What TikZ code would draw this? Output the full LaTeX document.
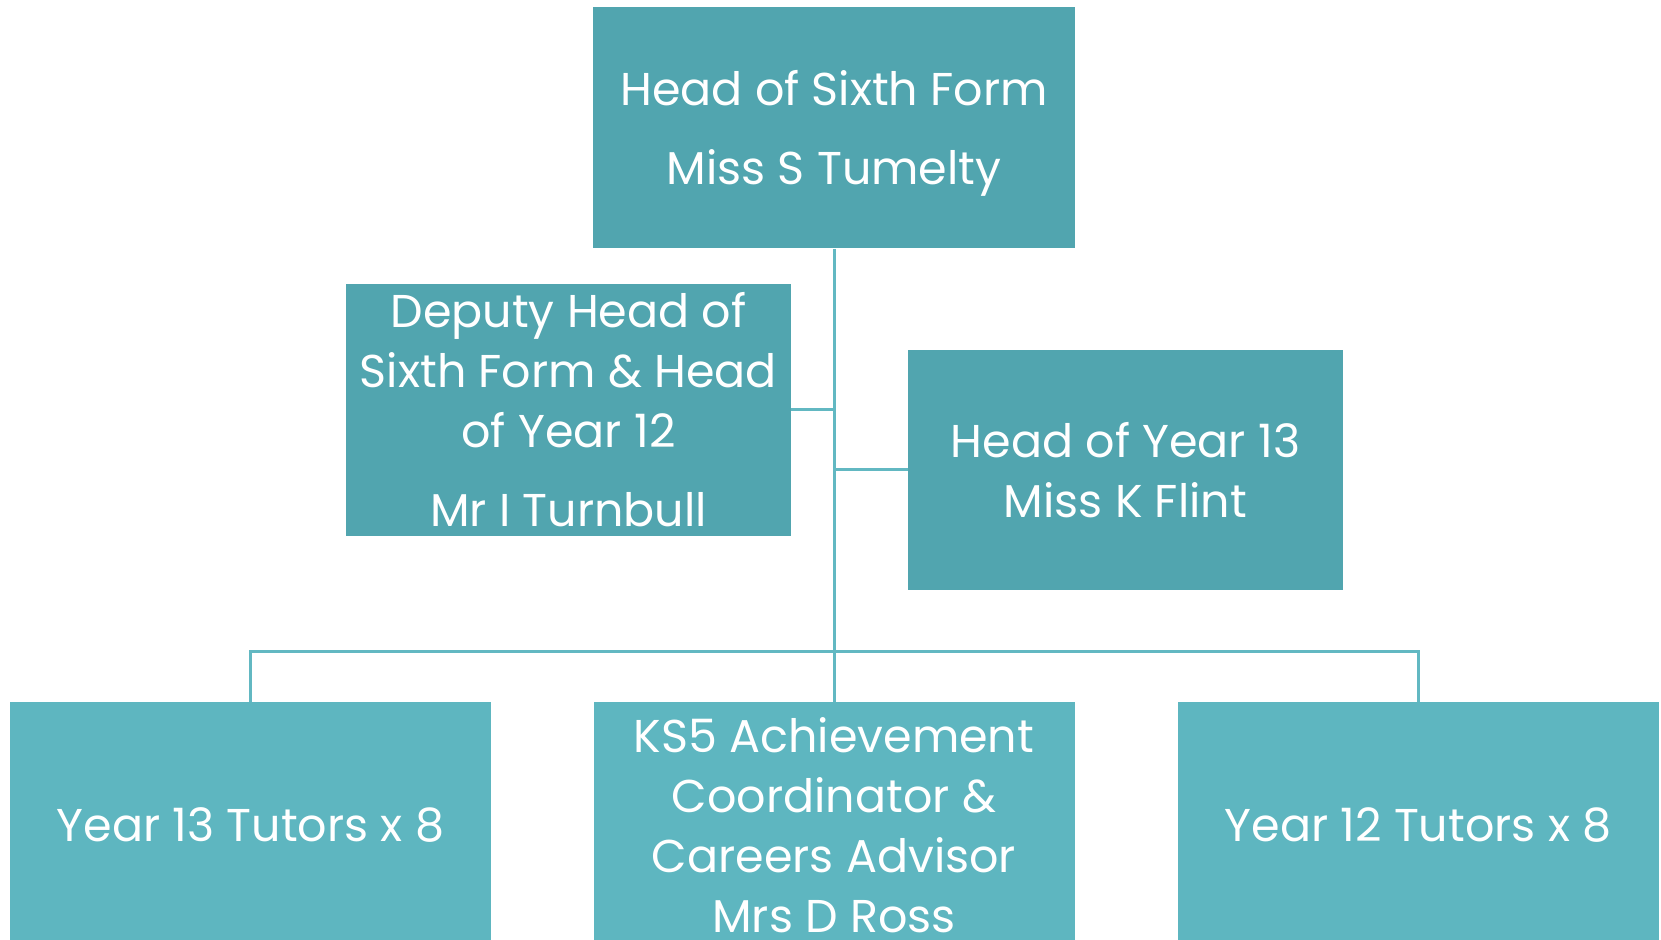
\documentclass[tikz,border=0pt]{standalone}
\usepackage{fontspec}
\setmainfont{Poppins}
\usetikzlibrary{calc,positioning}
\definecolor{tealdark}{HTML}{51A5AF}
\definecolor{teallight}{HTML}{5EB6C0}
\definecolor{tealline}{HTML}{62B8C2}
\tikzset{boss/.style={fill=tealdark,text=white,align=center,inner sep=0pt,font=\fontsize{23}{30}\selectfont},
tutor/.style={fill=teallight,text=white,align=center,inner sep=0pt,minimum width=240.5pt,minimum height=123pt,font=\fontsize{23}{30}\selectfont}}

\begin{document}
\begin{tikzpicture}[x=0.5pt,y=-0.5pt,link/.style={draw=tealline,line width=1.5pt}]
			\useasboundingbox (0,0) rectangle (1661,940);
			\node[boss,minimum width=241pt,minimum height=120.5pt] (hsf) at (834,128) {\rule{0pt}{22.5pt}Head of Sixth Form\\[9.5pt]Miss S Tumelty};
			\node[boss,minimum width=222.5pt,minimum height=126pt] (dep) at (568.5,410) {Deputy Head of\\Sixth Form \& Head\\of Year 12\\[9.5pt]Mr I Turnbull};
			\node[boss,minimum width=217.5pt,minimum height=120pt] (hy13) at (1125.5,470) {Head of Year 13\\Miss K Flint};

			\node[tutor] (t13) at (250.5,825) {Year 13 Tutors x 8};
			\node[tutor] (ks5) at (834,825) {KS5 Achievement\\Coordinator \&\\Careers Advisor\\Mrs D Ross};
			\node[tutor] (t12) at (1418,825) {Year 12 Tutors x 8};

			\coordinate (bar) at (834,652);
			\draw[link] (hsf) -- (ks5);
			\draw[link] (dep.east) -- (dep.east -| hsf.south);
			\draw[link] (hy13.west) -- (hy13.west -| hsf.south);
			\draw[link] (t13.north) |- (bar) -| (t12.north);
		\end{tikzpicture}
\end{document}
